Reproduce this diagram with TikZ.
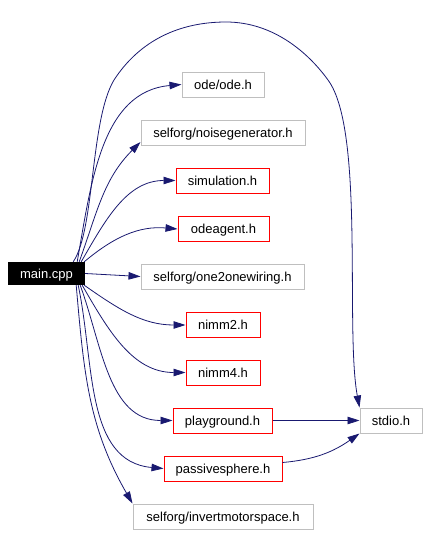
\documentclass[tikz,border=0pt]{standalone}
\usepackage{fontspec}
\setmainfont{Liberation Sans}
\usetikzlibrary{arrows.meta}
\definecolor{edgeblue}{HTML}{191970}
\definecolor{boxgray}{HTML}{BFBFBF}

\begin{document}
\begin{tikzpicture}[x=1pt,y=-1pt]
\tikzset{every node/.style={font=\fontsize{13}{15}\selectfont,minimum height=25pt,inner sep=0pt,text height=10pt,text depth=1pt}}
\tikzset{plainfile/.style={draw=boxgray,line width=1pt}}
\tikzset{redfile/.style={draw=red,line width=1pt}}
\tikzset{dep/.style={draw=edgeblue,line width=0.8pt,-{Triangle[length=12pt,width=7.5pt]}}}

\useasboundingbox (0,0) rectangle (431,535);

\node[fill=black,text=white,minimum width=77pt,minimum height=23pt] (main) at (46.5,273.5) {main.cpp};
\node[plainfile,minimum width=82pt] (ode) at (223,84.5) {ode/ode.h};
\node[plainfile,minimum width=164pt] (noise) at (223,133) {selforg/noisegenerator.h};
\node[redfile,minimum width=93pt] (sim) at (222.5,180.5) {simulation.h};
\node[redfile,minimum width=91pt] (odeagent) at (223.5,229) {odeagent.h};
\node[plainfile,minimum width=163pt] (wiring) at (222.5,276.5) {selforg/one2onewiring.h};
\node[redfile,minimum width=74pt] (nimmtwo) at (223,325) {nimm2.h};
\node[redfile,minimum width=74pt] (nimmfour) at (223,372.5) {nimm4.h};
\node[redfile,minimum width=99pt] (playground) at (222.5,420.5) {playground.h};
\node[plainfile,minimum width=62pt] (stdio) at (391,420.5) {stdio.h};
\node[redfile,minimum width=118pt] (sphere) at (223,468.5) {passivesphere.h};
\node[plainfile,minimum width=180pt] (invert) at (223,516.5) {selforg/invertmotorspace.h};

\draw[dep] ([xshift=-8pt]main.north east) to[out=80,in=185] (ode.west);
\draw[dep] ([xshift=-6pt]main.north east) to[out=70,in=225] ([yshift=4pt]noise.south west);
\draw[dep] ([xshift=-4pt]main.north east) to[out=60,in=180] (sim.west);
\draw[dep] ([xshift=-1pt]main.north east) to[out=40,in=175] (odeagent.west);
\draw[dep] (main.east) -- (wiring.west);
\draw[dep] ([xshift=-1pt]main.south east) to[out=-35,in=180] (nimmtwo.west);
\draw[dep] ([xshift=-3pt]main.south east) to[out=-60,in=180] (nimmfour.west);
\draw[dep] ([xshift=-5pt]main.south east) to[out=-70,in=180] (playground.west);
\draw[dep] ([xshift=-7pt]main.south east) to[out=-78,in=175] (sphere.west);
\draw[dep] ([xshift=-9pt]main.south east) to[out=-85,in=120] (invert.north west);
\draw[dep] ([xshift=-12pt]main.north east) .. controls (95,230) and (90,120) .. (114,80)
  .. controls (140,40) and (180,22) .. (226,22)
  .. controls (275,22) and (310,55) .. (328,80)
  .. controls (365,130) and (345,330) .. (stdio.north west);
\draw[dep] (playground.east) -- (stdio.west);
\draw[dep] ([yshift=6pt]sphere.east) to[out=5,in=215] (stdio.south west);
\end{tikzpicture}
\end{document}
